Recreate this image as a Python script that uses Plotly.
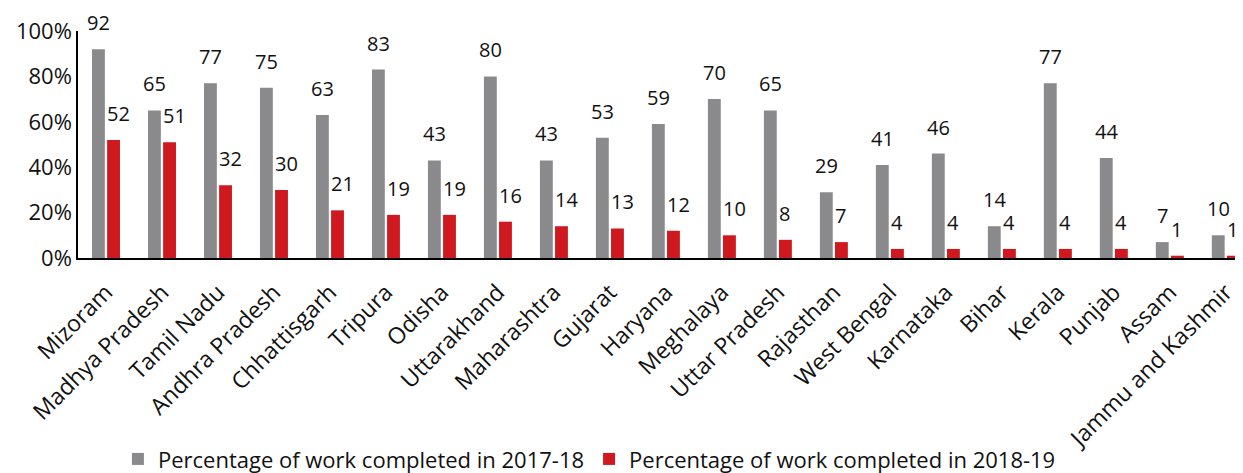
import plotly.graph_objects as go

states = [
    "Mizoram", "Madhya Pradesh", "Tamil Nadu", "Andhra Pradesh", "Chhattisgarh",
    "Tripura", "Odisha", "Uttarakhand", "Maharashtra", "Gujarat", "Haryana",
    "Meghalaya", "Uttar Pradesh", "Rajasthan", "West Bengal", "Karnataka",
    "Bihar", "Kerala", "Punjab", "Assam", "Jammu and Kashmir",
]
done_2017_18 = [92, 65, 77, 75, 63, 83, 43, 80, 43, 53, 59, 70, 65, 29, 41, 46, 14, 77, 44, 7, 10]
done_2018_19 = [52, 51, 32, 30, 21, 19, 19, 16, 14, 13, 12, 10, 8, 7, 4, 4, 4, 4, 4, 1, 1]

GREY = "#8a8a8c"
RED = "#d0181f"
FONT = "Open Sans, Lato, sans-serif"

fig = go.Figure()
# (series name, values, colour, label anchor, label x-offset in px)
series = [
    ("Percentage of work completed in 2017-18", done_2017_18, GREY, "center", -7.5),
    ("Percentage of work completed in 2018-19", done_2018_19, RED, "left", -1),
]
for name, vals, colour, anchor, shift in series:
    fig.add_trace(go.Bar(
        x=states, y=vals, name=name,
        marker=dict(color=colour, line=dict(width=0)),
    ))
    # value labels sit well clear of the bar tops, as in the original
    for st, v in zip(states, vals):
        fig.add_annotation(x=st, y=v, text=str(v), showarrow=False,
                           yanchor="bottom", xanchor=anchor,
                           xshift=shift, yshift=11,
                           font=dict(size=20, color="#111"))

fig.update_layout(
    barmode="group", bargap=0.46, bargroupgap=0.15,
    width=1243, height=473,
    margin=dict(l=70, r=0, t=23, b=221),
    plot_bgcolor="white", paper_bgcolor="white",
    font=dict(family=FONT, color="#111", size=20),
    legend=dict(orientation="h", x=0.436, xanchor="center", y=-0.886, yanchor="middle",
                font=dict(size=22), itemwidth=30, traceorder="normal"),
    xaxis=dict(tickangle=-45, showline=True, linecolor="black", linewidth=1.5,
               tickfont=dict(size=23), automargin=False, ticks="",
               ticklabelstandoff=10, range=[-0.5, 20.45]),
    yaxis=dict(range=[0, 100], dtick=20, ticksuffix="%", showgrid=False,
               showline=True, linecolor="black", linewidth=1.5, zeroline=False,
               tickfont=dict(size=22), automargin=False),
)

fig.write_html("out.html")
